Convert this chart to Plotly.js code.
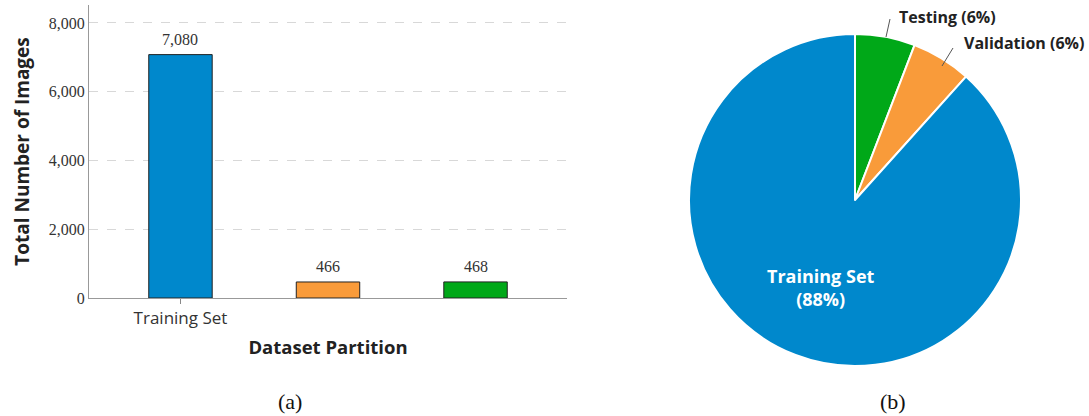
<!DOCTYPE html>
<html>
<head>
<meta charset="utf-8">
<script src="https://cdn.plot.ly/plotly-3.0.1.min.js"></script>
<style>html,body{margin:0;padding:0;background:#fff;}#chart{width:1089px;height:416px;}</style>
</head>
<body>
<div id="chart"></div>
<script>
// ---- Data ----
const partitions = ["Training Set", "Validation", "Testing"];
const imageCounts = [7080, 466, 468];
const barColors = ["#0088CC", "#F99B3A", "#00A818"];
const yTickVals = [0, 2000, 4000, 6000, 8000];
const yTickText = ["0", "2,000", "4,000", "6,000", "8,000"];
const pieOrder = ["Testing", "Validation", "Training Set"];
const pieCounts = [468, 466, 7080];
const pieColors = ["#00A818", "#F99B3A", "#0088CC"];

const W = 1089, H = 416;
const px = x => x / W;
const py = y => 1 - y / H;

const total = pieCounts.reduce((a, b) => a + b, 0);
const pct = v => Math.round(v / total * 100) + "%";

const bar = {
  type: "bar",
  x: [0, 1, 2],
  y: imageCounts,
  width: 0.43,
  marker: { color: barColors, line: { color: "#222", width: 1 } },
  hoverinfo: "none",
  showlegend: false,
  xaxis: "x", yaxis: "y"
};

const pie = {
  type: "pie",
  labels: pieOrder,
  values: pieCounts,
  sort: false,
  direction: "clockwise",
  rotation: 0,
  marker: { colors: pieColors, line: { color: "#fff", width: 2 } },
  textinfo: "none",
  hoverinfo: "none",
  showlegend: false,
  domain: { x: [px(855 - 166), px(855 + 166)], y: [py(367), py(33)] }
};

const ann = (x, y, text, size, color, family) => ({
  xref: "paper", yref: "paper", x: px(x), y: py(y), xanchor: "center", yanchor: "middle",
  text: text, showarrow: false, font: { family: family || "Open Sans, sans-serif", size: size, color: color }
});

// value labels above bars, positioned in data coordinates
const valueLabels = imageCounts.map((v, i) => ({
  xref: "x", yref: "y", x: i, y: v, xanchor: "center", yanchor: "bottom", yshift: 5,
  text: v.toLocaleString("en-US"), showarrow: false,
  font: { family: "Liberation Serif, serif", size: 16, color: "#333" }
}));

const layout = {
  width: W, height: H,
  margin: { l: 0, r: 0, t: 0, b: 0 },
  paper_bgcolor: "#fff",
  plot_bgcolor: "#fff",
  showlegend: false,
  xaxis: {
    domain: [px(89), px(567)],
    range: [-0.62, 2.62],
    tickmode: "array",
    tickvals: [0],
    ticktext: [partitions[0]],
    ticks: "outside", ticklen: 5, tickcolor: "#888",
    tickfont: { family: "Open Sans, sans-serif", size: 17, color: "#333" },
    showline: true, linecolor: "#999", linewidth: 1,
    showgrid: false, zeroline: false,
    title: { text: "Dataset Partition", font: { family: "Open Sans, sans-serif", size: 18.5, color: "#222", weight: "bold" }, standoff: 12 }
  },
  yaxis: {
    domain: [py(298), py(5)],
    range: [0, 8523],
    tickmode: "array",
    tickvals: yTickVals,
    ticktext: yTickText,
    ticks: "",
    tickfont: { family: "Liberation Serif, serif", size: 16, color: "#333" },
    showline: true, linecolor: "#999", linewidth: 1,
    showgrid: true, gridcolor: "#d8d8d8", griddash: "dash", gridwidth: 1,
    zeroline: false,
    title: { text: "Total Number of Images", font: { family: "Open Sans, sans-serif", size: 19, color: "#222", weight: "bold" }, standoff: 14 }
  },
  shapes: [
    { type: "line", xref: "paper", yref: "paper", x0: px(886), y0: py(37), x1: px(890), y1: py(19), line: { color: "#555", width: 1 } },
    { type: "line", xref: "paper", yref: "paper", x0: px(942), y0: py(66), x1: px(953), y1: py(48), line: { color: "#555", width: 1 } }
  ],
  annotations: valueLabels.concat([
    ann(947, 17, "<b>" + pieOrder[0] + " (" + pct(pieCounts[0]) + ")</b>", 16, "#222"),
    ann(1024, 43, "<b>" + pieOrder[1] + " (" + pct(pieCounts[1]) + ")</b>", 16, "#222"),
    ann(821, 287, "<b>" + pieOrder[2] + "<br>(" + pct(pieCounts[2]) + ")</b>", 18, "#fff"),
    ann(290, 401, "(a)", 22, "#111", "Liberation Serif, serif"),
    ann(893, 401, "(b)", 22, "#111", "Liberation Serif, serif")
  ])
};

Plotly.newPlot("chart", [bar, pie], layout, { displayModeBar: false, staticPlot: true });
</script>
</body>
</html>
